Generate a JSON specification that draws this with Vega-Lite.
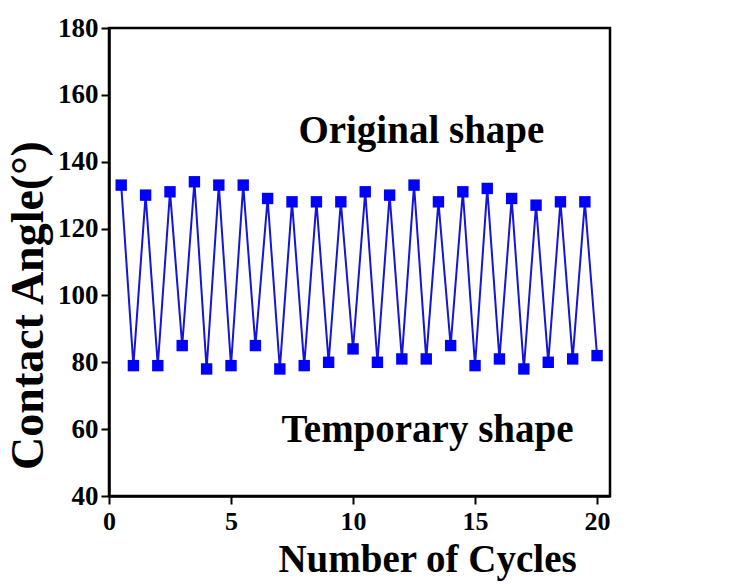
{
  "$schema": "https://vega.github.io/schema/vega-lite/v6.json",
  "autosize": {"type": "none"},
  "padding": {"left": 109, "top": 28, "right": 137, "bottom": 88},
  "width": 501,
  "height": 468,
  "background": "white",
  "config": {
    "view": {"stroke": "black", "strokeWidth": 2.5},
    "font": "Liberation Serif"
  },
  "datasets": {
    "pts": [
      {"cycle": 0.5, "angle": 133}, {"cycle": 1, "angle": 79},
      {"cycle": 1.5, "angle": 130}, {"cycle": 2, "angle": 79},
      {"cycle": 2.5, "angle": 131}, {"cycle": 3, "angle": 85},
      {"cycle": 3.5, "angle": 134}, {"cycle": 4, "angle": 78},
      {"cycle": 4.5, "angle": 133}, {"cycle": 5, "angle": 79},
      {"cycle": 5.5, "angle": 133}, {"cycle": 6, "angle": 85},
      {"cycle": 6.5, "angle": 129}, {"cycle": 7, "angle": 78},
      {"cycle": 7.5, "angle": 128}, {"cycle": 8, "angle": 79},
      {"cycle": 8.5, "angle": 128}, {"cycle": 9, "angle": 80},
      {"cycle": 9.5, "angle": 128}, {"cycle": 10, "angle": 84},
      {"cycle": 10.5, "angle": 131}, {"cycle": 11, "angle": 80},
      {"cycle": 11.5, "angle": 130}, {"cycle": 12, "angle": 81},
      {"cycle": 12.5, "angle": 133}, {"cycle": 13, "angle": 81},
      {"cycle": 13.5, "angle": 128}, {"cycle": 14, "angle": 85},
      {"cycle": 14.5, "angle": 131}, {"cycle": 15, "angle": 79},
      {"cycle": 15.5, "angle": 132}, {"cycle": 16, "angle": 81},
      {"cycle": 16.5, "angle": 129}, {"cycle": 17, "angle": 78},
      {"cycle": 17.5, "angle": 127}, {"cycle": 18, "angle": 80},
      {"cycle": 18.5, "angle": 128}, {"cycle": 19, "angle": 81},
      {"cycle": 19.5, "angle": 128}, {"cycle": 20, "angle": 82}
    ],
    "labels": [
      {"cycle": 12.8, "angle": 145.6, "text": "Original shape"},
      {"cycle": 13.05, "angle": 56.2, "text": "Temporary shape"}
    ]
  },
  "layer": [
    {
      "data": {"name": "pts"},
      "mark": {"type": "line", "color": "#1515d8", "strokeWidth": 2},
      "encoding": {
        "x": {
          "field": "cycle", "type": "quantitative",
          "scale": {"domain": [0, 20.53], "nice": false, "zero": false},
          "axis": {
            "values": [0, 5, 10, 15, 20],
            "title": "Number of Cycles",
            "titleFont": "Liberation Serif", "titleFontSize": 39, "titleFontWeight": "bold",
            "titleColor": "black", "titlePadding": 6, "titleX": 318, "titleAlign": "center",
            "labelFont": "Liberation Serif", "labelFontSize": 26, "labelFontWeight": "bold",
            "labelColor": "black", "labelPadding": 4, "labelFlush": false,
            "domainColor": "black", "domainWidth": 2.5,
            "tickColor": "black", "tickWidth": 2, "tickSize": 8,
            "grid": false
          }
        },
        "y": {
          "field": "angle", "type": "quantitative",
          "scale": {"domain": [40, 180], "nice": false, "zero": false},
          "axis": {
            "values": [40, 50, 60, 70, 80, 90, 100, 110, 120, 130, 140, 150, 160, 170, 180],
            "labelExpr": "datum.value % 20 === 0 ? datum.label : ''",
            "title": "Contact Angle(°)",
            "titleFont": "Liberation Serif", "titleFontSize": 46, "titleFontWeight": "bold",
            "titleColor": "black", "titlePadding": 5, "titleY": 277, "titleAlign": "center",
            "labelFont": "Liberation Serif", "labelFontSize": 27, "labelFontWeight": "bold",
            "labelColor": "black", "labelPadding": 3, "labelFlush": false,
            "domainColor": "black", "domainWidth": 2.5,
            "tickColor": "black", "tickWidth": 2,
            "tickSize": {"condition": {"test": "datum.value % 20 === 0", "value": 8}, "value": 5},
            "grid": false
          }
        }
      }
    },
    {
      "data": {"name": "pts"},
      "mark": {"type": "point", "shape": "square", "filled": true, "size": 130, "color": "#0000ff", "opacity": 1},
      "encoding": {
        "x": {"field": "cycle", "type": "quantitative"},
        "y": {"field": "angle", "type": "quantitative"}
      }
    },
    {
      "data": {"name": "labels"},
      "mark": {"type": "text", "font": "Liberation Serif", "fontSize": 39, "fontWeight": "bold", "color": "black", "align": "center", "baseline": "alphabetic"},
      "encoding": {
        "x": {"field": "cycle", "type": "quantitative"},
        "y": {"field": "angle", "type": "quantitative"},
        "text": {"field": "text"}
      }
    }
  ]
}
